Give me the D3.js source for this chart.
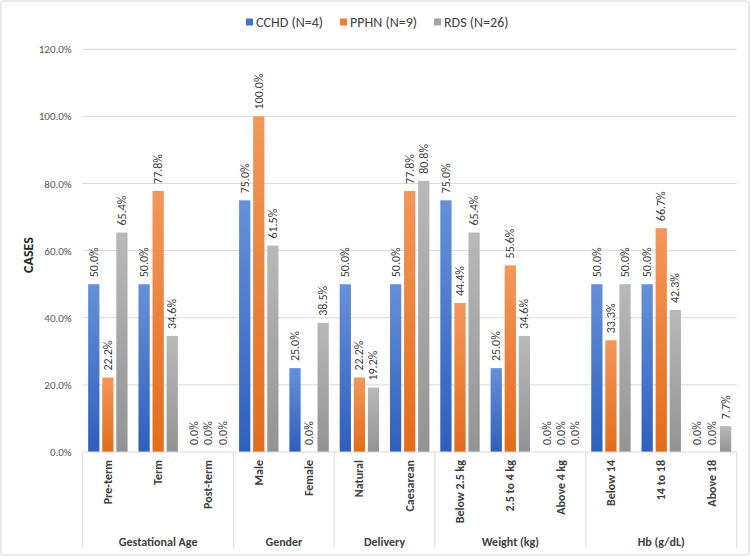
<!DOCTYPE html>
<html>
<head>
<meta charset="utf-8">
<script src="https://cdn.jsdelivr.net/npm/d3@7"></script>
<style>
  html, body { margin: 0; padding: 0; background: #ffffff; }
  svg { display: block; font-family: Calibri, Carlito, "Liberation Sans", Arial, sans-serif; }
</style>
</head>
<body>
<svg id="chart" width="750" height="556"></svg>
<script>
// ---- data ----
const groups = ["Gestational Age", "Gender", "Delivery", "Weight (kg)", "Hb (g/dL)"];
const categories = ["Pre-term", "Term", "Post-term", "Male", "Female", "Natural", "Caesarean",
                    "Below 2.5 kg", "2.5 to 4 kg", "Above 4 kg", "Below 14", "14 to 18", "Above 18"];
const categoryGroup = ["Gestational Age", "Gestational Age", "Gestational Age", "Gender", "Gender",
                       "Delivery", "Delivery", "Weight (kg)", "Weight (kg)", "Weight (kg)",
                       "Hb (g/dL)", "Hb (g/dL)", "Hb (g/dL)"];
const seriesNames = ["CCHD (N=4)", "PPHN (N=9)", "RDS (N=26)"];
const cchd = [50.0, 50.0, 0.0, 75.0, 25.0, 50.0, 50.0, 75.0, 25.0, 0.0, 50.0, 50.0, 0.0];
const pphn = [22.2, 77.8, 0.0, 100.0, 0.0, 22.2, 77.8, 44.4, 55.6, 0.0, 33.3, 66.7, 0.0];
const rds  = [65.4, 34.6, 0.0, 61.5, 38.5, 19.2, 80.8, 65.4, 34.6, 0.0, 50.0, 42.3, 7.7];
const yTicks = [0, 20, 40, 60, 80, 100, 120];
const yAxisTitle = "CASES";

const seriesValues = [cchd, pphn, rds];
const colors = [
  { top: "#6690d8", bottom: "#2f5fbd", legend: "#4472c4" },
  { top: "#f3975b", bottom: "#e46c1b", legend: "#ed7d31" },
  { top: "#b9b9b9", bottom: "#939393", legend: "#a5a5a5" }
];

const svg = d3.select("#chart");
const W = 750, H = 556;
const mLeft = 82.7, mRight = 736.7, mTop = 49.3, mBottom = 452;
const FONT = "Calibri, Carlito, 'Liberation Sans', Arial, sans-serif";

// outer border
svg.append("rect").attr("x", 1).attr("y", 1).attr("width", W - 2).attr("height", H - 2)
  .attr("rx", 3).attr("fill", "#fff").attr("stroke", "#e3e3e3").attr("stroke-width", 1.5);

// gradients
const defs = svg.append("defs");
colors.forEach((c, i) => {
  const g = defs.append("linearGradient").attr("id", "grad" + i)
    .attr("x1", 0).attr("y1", 0).attr("x2", 0).attr("y2", 1);
  g.append("stop").attr("offset", "0%").attr("stop-color", c.top);
  g.append("stop").attr("offset", "100%").attr("stop-color", c.bottom);
});

const y = d3.scaleLinear().domain([0, 120]).range([mBottom, mTop]);
const x0 = d3.scaleBand().domain(categories).range([mLeft, mRight]).paddingInner(0).paddingOuter(0);
const bw = x0.bandwidth();
const groupW = 39.4;
const x1 = d3.scaleBand().domain(seriesNames)
  .range([(bw - groupW) / 2, (bw + groupW) / 2]).paddingInner(0.2).paddingOuter(0);

// gridlines
svg.append("g").selectAll("line").data(yTicks.filter(d => d > 0)).join("line")
  .attr("x1", mLeft).attr("x2", mRight)
  .attr("y1", d => y(d)).attr("y2", d => y(d))
  .attr("stroke", "#d9d9d9").attr("stroke-width", 1);

// y axis labels
const yAxis = d3.axisLeft(y).tickValues(yTicks).tickFormat(d => d.toFixed(1) + "%").tickSize(0).tickPadding(11);
const yg = svg.append("g").attr("transform", `translate(${mLeft},0)`).call(yAxis);
yg.select(".domain").remove();
yg.selectAll("text").attr("fill", "#595959").style("font-size", "11px").style("font-family", FONT);

// y title
svg.append("text").attr("transform", `translate(28,255) rotate(-90)`)
  .attr("text-anchor", "middle").attr("dominant-baseline", "central")
  .attr("font-weight", "bold").attr("font-size", 14)
  .attr("fill", "#262626").text(yAxisTitle);

// bars
const catG = svg.append("g").selectAll("g").data(categories).join("g")
  .attr("transform", d => `translate(${x0(d)},0)`);

catG.each(function (cat, ci) {
  const g = d3.select(this);
  seriesNames.forEach((s, si) => {
    const v = seriesValues[si][ci];
    if (v > 0) {
      g.append("rect")
        .attr("x", x1(s)).attr("width", x1.bandwidth())
        .attr("y", y(v)).attr("height", y(0) - y(v))
        .attr("fill", `url(#grad${si})`);
    }
    const cx = x1(s) + x1.bandwidth() / 2;
    g.append("text")
      .attr("transform", `translate(${cx},${y(v) - 7}) rotate(-90)`)
      .attr("text-anchor", "start").attr("dominant-baseline", "central")
      .attr("font-size", 12).attr("fill", "#404040")
      .text(v.toFixed(1) + "%");
  });
});

// x axis line
svg.append("line").attr("x1", mLeft).attr("x2", mRight).attr("y1", mBottom).attr("y2", mBottom)
  .attr("stroke", "#d9d9d9").attr("stroke-width", 1);

// category labels
const xAxis = d3.axisBottom(x0).tickSize(0).tickPadding(0);
const xg = svg.append("g").attr("transform", `translate(0,${mBottom})`).call(xAxis);
xg.select(".domain").remove();
xg.selectAll("text")
  .attr("y", 0).attr("dy", null)
  .attr("transform", "translate(0,8) rotate(-90)")
  .attr("text-anchor", "end").attr("dominant-baseline", "central")
  .attr("x", 0)
  .attr("fill", "#404040").style("font-size", "12px").style("font-weight", "bold")
  .style("font-family", FONT);

// group separators and labels
const groupBounds = groups.map(gname => {
  const cats = categories.filter((c, i) => categoryGroup[i] === gname);
  const gx0 = x0(cats[0]);
  const gx1 = x0(cats[cats.length - 1]) + bw;
  return { name: gname, x0: gx0, x1: gx1 };
});
const sepX = [groupBounds[0].x0].concat(groupBounds.map(d => d.x1));
svg.append("g").selectAll("line").data(sepX).join("line")
  .attr("x1", d => d).attr("x2", d => d).attr("y1", mBottom).attr("y2", 548)
  .attr("stroke", "#d9d9d9").attr("stroke-width", 1);
svg.append("g").selectAll("text").data(groupBounds).join("text")
  .attr("x", d => (d.x0 + d.x1) / 2).attr("y", 541.5)
  .attr("text-anchor", "middle").attr("dominant-baseline", "central")
  .attr("font-size", 12).attr("font-weight", "bold").attr("fill", "#404040")
  .text(d => d.name);

// legend
const legendX = [246, 340, 434];
const lg = svg.append("g").selectAll("g").data(seriesNames).join("g")
  .attr("transform", (d, i) => `translate(${legendX[i]},22)`);
lg.append("rect").attr("x", 0).attr("y", -3.5).attr("width", 7).attr("height", 7)
  .attr("fill", (d, i) => colors[i].legend);
lg.append("text").attr("x", 10).attr("y", 0).attr("dominant-baseline", "central")
  .attr("font-size", 14).attr("fill", "#404040").text(d => d);
</script>
</body>
</html>
